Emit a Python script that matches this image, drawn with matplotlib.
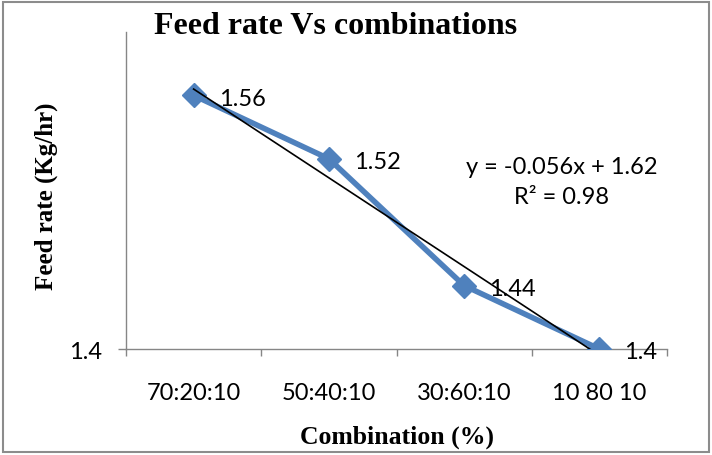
import numpy as np
import matplotlib
matplotlib.use("Agg")
import matplotlib.pyplot as plt
from matplotlib.patches import Rectangle

categories = ["70:20:10", "50:40:10", "30:60:10", "10 80 10"]
feed_rate = [1.56, 1.52, 1.44, 1.40]
value_labels = ["1.56", "1.52", "1.44", "1.4"]
trend_slope = -0.056
trend_intercept = 1.62
trend_r2 = 0.98

sans = "Lato"
serif = "Liberation Serif"
axis_grey = "#868686"
series_blue = "#4F81BD"

W, H = 712, 456
fig = plt.figure(figsize=(W / 100, H / 100), dpi=100)
fig.patch.set_facecolor("white")
fig.patches.append(Rectangle((3 / W, 3 / H), 1 - 6 / W, 1 - 6 / H, transform=fig.transFigure,
                             fill=False, edgecolor="#8c8c8c", linewidth=1.5))

ax_l, ax_r, ax_t, ax_b = 126, 667, 33, 350
ax = fig.add_axes([ax_l / W, 1 - ax_b / H, (ax_r - ax_l) / W, (ax_b - ax_t) / H])
x = np.arange(1, len(categories) + 1)

ax.plot(x, feed_rate, color=series_blue, linewidth=4, marker="D", markersize=12,
        markerfacecolor=series_blue, markeredgecolor=series_blue, zorder=3,
        solid_joinstyle="miter")

xt = np.array([x[0], x[-1]])
ax.plot(xt, trend_slope * xt + trend_intercept, color="black", linewidth=1.2, zorder=4)

for xi, yi, lab in zip(x, feed_rate, value_labels):
    ax.annotate(lab, (xi, yi), xytext=(18, -2), textcoords="offset points",
                ha="left", va="center", fontsize=17, family=sans, color="black", zorder=5)

# trendline equation and fit quality, in data coordinates
ax.text(3.72, 1.515, f"y = {trend_slope}x + {trend_intercept}", ha="center", va="center",
        fontsize=17, family=sans)
ax.text(3.72, 1.4965, f"R² = {trend_r2}", ha="center", va="center", fontsize=17, family=sans)

ax.set_xlim(0.5, 4.5)
ax.set_ylim(1.4, 1.6)
ax.set_xticks(x)
ax.set_xticklabels(categories, family=sans, fontsize=17)
ax.set_xticks([0.5, 1.5, 2.5, 3.5, 4.5], minor=True)
ax.tick_params(axis="x", which="major", length=0, pad=24)
ax.tick_params(axis="x", which="minor", length=5, color=axis_grey, width=1)
ax.set_yticks([1.4])
ax.set_yticklabels(["1.4"], family=sans, fontsize=17)
ax.tick_params(axis="y", length=6, color=axis_grey, width=1, pad=11)

for side in ["top", "right"]:
    ax.spines[side].set_visible(False)
for side in ["left", "bottom"]:
    ax.spines[side].set_color(axis_grey)
    ax.spines[side].set_linewidth(1)

ax.set_xlabel("Combination (%)", family=serif, fontweight="bold", fontsize=18.5, va="center")
ax.xaxis.set_label_coords(0.5, (ax_b - 437) / (ax_b - ax_t))
ax.set_ylabel("Feed rate (Kg/hr)", family=serif, fontweight="bold", fontsize=18, va="center")
ax.yaxis.set_label_coords((46 - ax_l) / (ax_r - ax_l), (ax_b - 196) / (ax_b - ax_t))
fig.text(336 / W, 1 - 27 / H, "Feed rate Vs combinations", family=serif,
         fontweight="bold", fontsize=23, ha="center", va="center")

fig.savefig("out.png", dpi=100, facecolor="white")
